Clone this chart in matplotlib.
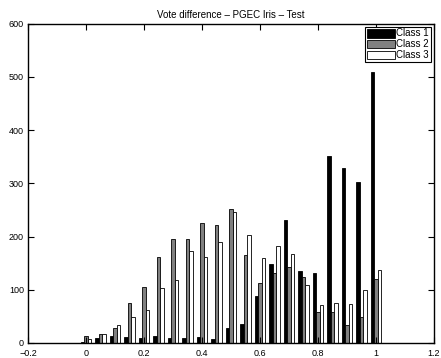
import numpy as np
import matplotlib
matplotlib.use('Agg')
import matplotlib.pyplot as plt

plt.rcParams['font.family'] = ['Liberation Sans', 'DejaVu Sans']

# vote difference bins
bins = [0.0, 0.05, 0.1, 0.15, 0.2, 0.25, 0.3, 0.35, 0.4, 0.45, 0.5,
        0.55, 0.6, 0.65, 0.7, 0.75, 0.8, 0.85, 0.9, 0.95, 1.0]

class1 = [1, 10, 14, 12, 9, 13, 10, 10, 12, 8, 28,
          36, 89, 149, 231, 136, 131, 352, 329, 302, 510]
class2 = [13, 16, 29, 75, 106, 162, 196, 196, 226, 222, 251,
          166, 112, 131, 142, 124, 58, 58, 34, 49, 120]
class3 = [8, 16, 34, 49, 61, 104, 118, 173, 161, 189, 246,
          202, 159, 183, 167, 109, 71, 75, 73, 99, 137]

labels = ['Class 1', 'Class 2', 'Class 3']
colors = ['black', '#808080', 'white']

fig = plt.figure(figsize=(4.41, 3.58), dpi=100)
ax = fig.add_axes([0.0635, 0.042, 0.9205, 0.892])

x = np.array(bins)
w = 0.0118
for k, (vals, lab, col) in enumerate(zip([class1, class2, class3], labels, colors)):
    ax.bar(x + (k - 1) * w, vals, width=w, color=col, edgecolor='black',
           linewidth=0.6, label=lab)

ax.set_xlim(-0.2, 1.2)
ax.set_ylim(0, 600)
ax.set_xticks([-0.2, 0, 0.2, 0.4, 0.6, 0.8, 1.0, 1.2])
ax.set_xticklabels(['\u22120.2', '0', '0.2', '0.4', '0.6', '0.8', '1', '1.2'])
ax.set_yticks([0, 100, 200, 300, 400, 500, 600])
ax.tick_params(direction='in', top=True, right=True, labelsize=6.5,
               length=4, width=0.8, pad=2)
ax.tick_params(axis='x', pad=4)
ax.tick_params(axis='y', pad=3)
for s in ax.spines.values():
    s.set_linewidth(1.0)

ax.set_title('Vote difference \u2013 PGEC Iris \u2013 Test', fontsize=7, pad=4)

leg = ax.legend(loc='upper right', fontsize=7, fancybox=False, framealpha=1,
                edgecolor='black', borderaxespad=0.3, handlelength=2.8,
                handleheight=1.0, handletextpad=0.2, labelspacing=0.1,
                borderpad=0.2)
leg.get_frame().set_linewidth(0.8)

fig.savefig('out.png', dpi=100)
